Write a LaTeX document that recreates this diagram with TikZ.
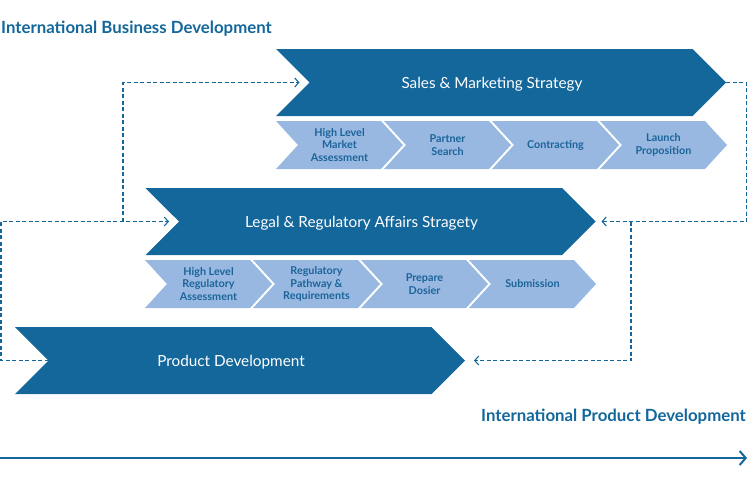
\documentclass[tikz,border=0pt]{standalone}
\usepackage{fontspec}
\setmainfont{Lato}
\usetikzlibrary{shapes.symbols,arrows.meta,positioning}
\definecolor{mainblue}{HTML}{14679B}
\definecolor{stepblue}{HTML}{98B8E1}
\definecolor{steptext}{HTML}{1B6499}

\begin{document}
\begin{tikzpicture}[
        x=1pt, y=-1pt,
        phase/.style={signal, signal from=west, signal to=east, signal pointer angle=90,
            fill=mainblue, minimum width=450pt, minimum height=67pt, inner sep=0pt, outer sep=0pt},
        task/.style={signal, signal from=west, signal to=east, signal pointer angle=95,
            fill=stepblue, minimum width=127pt, minimum height=48pt, inner sep=0pt, outer sep=0pt,
            text=steptext, font=\bfseries\fontsize{10.8}{12.8}\selectfont, align=center},
        phaselabel/.style={text=white, font=\fontsize{15.3}{18}\selectfont},
        heading/.style={text=mainblue, inner sep=0pt, font=\bfseries\fontsize{16.8}{20}\selectfont},
        flow/.style={draw=mainblue, line width=1.1pt, dash pattern=on 4pt off 2.5pt,
            -{Straight Barb[length=4pt,width=9pt]}}
    ]
    \useasboundingbox (0,0) rectangle (748,482);

    \node[heading, anchor=west] (bizdev) at (1,29) {International Business Development};
    \node[heading, anchor=east] (proddev) at (746,417) {International Product Development};

    \node[phase] (sales) at (501,82.5) {};
    \node[phaselabel] (saleslabel) at ([xshift=-9pt,yshift=-2pt]sales.center) {Sales \& Marketing Strategy};
    \node[task] (market) at (339.5,145) {High Level\\Market\\Assessment};
    \node[task] (partner) at (447.5,145) {Partner\\Search};
    \node[task] (contract) at (555.5,145) {Contracting};
    \node[task] (launch) at (663.5,145) {Launch\\Proposition};

    \node[phase] (legal) at (370.5,221.5) {};
    \node[phaselabel] (legallabel) at ([xshift=-9pt,yshift=-2pt]legal.center) {Legal \& Regulatory Affairs Stragety};
    \node[task] (regassess) at (208.5,284) {High Level\\Regulatory\\Assessment};
    \node[task] (pathway) at (316.5,284) {Regulatory\\Pathway \&\\Requirements};
    \node[task] (dosier) at (424.5,284) {Prepare\\Dosier};
    \node[task] (submit) at (532.5,284) {Submission};

    \node[phase] (product) at (240,360.5) {};
    \node[phaselabel] (productlabel) at ([xshift=-9pt,yshift=-2pt]product.center) {Product Development};

    \coordinate (rightedge) at (746.5,150);
    \coordinate (split) at (631,221.5);
    \coordinate (leftedge) at (1,290);
    \coordinate (midturn) at (123,221.5);
    \coordinate (timestart) at (0,458);
    \coordinate (timeend) at (747,458);

    \draw[flow] (sales.east) -| (rightedge) |- ([xshift=6pt]legal.east);
    \draw[flow] (split) |- ([xshift=9pt]product.east);
    \draw[flow] (product.west) -| (leftedge) |- ([xshift=-10pt]legal.west);
    \draw[flow] (midturn) |- ([xshift=-10pt]sales.west);

    \draw[mainblue, line width=2pt, -{Straight Barb[length=6pt,width=14pt]}] (timestart) -- (timeend);
\end{tikzpicture}
\end{document}
